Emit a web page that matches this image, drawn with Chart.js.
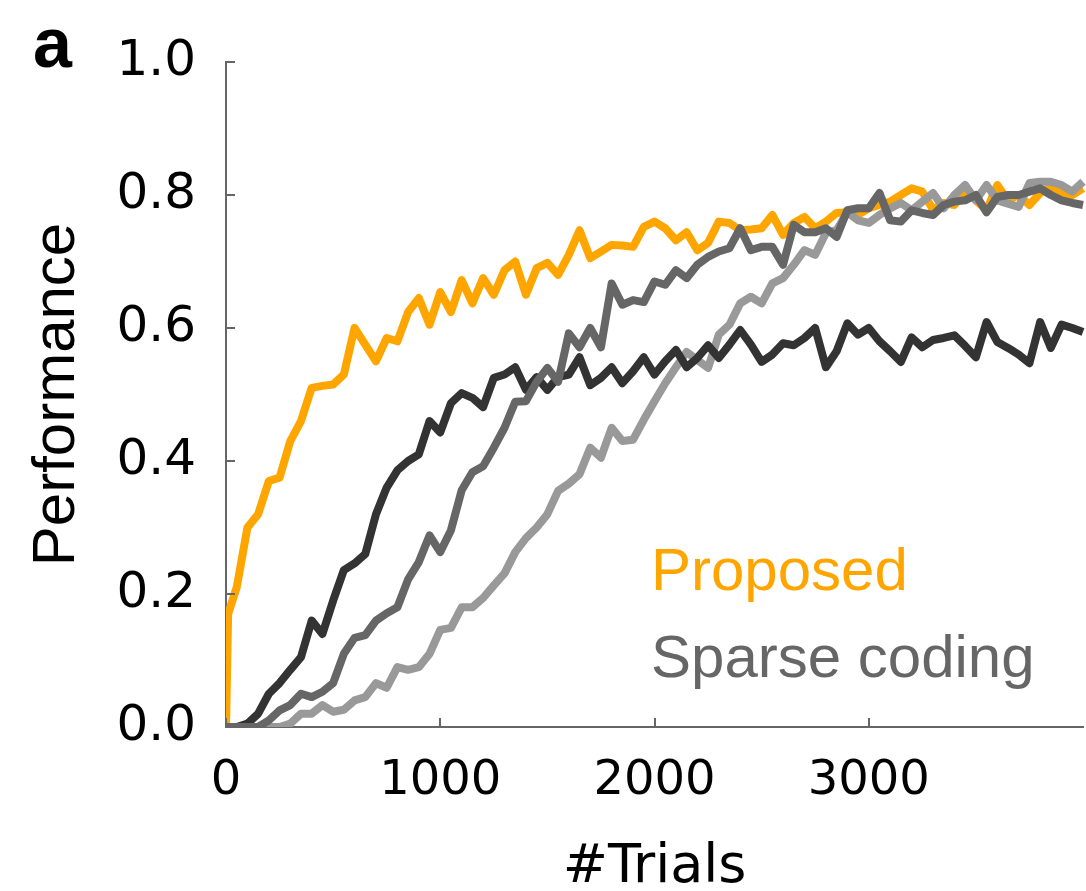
<!DOCTYPE html>
<html>
<head>
<meta charset="utf-8">
<script src="https://cdn.jsdelivr.net/npm/chart.js@4.4.1/dist/chart.umd.min.js"></script>
<style>
  html, body { margin: 0; padding: 0; background: #fff; }
  #wrap { position: relative; width: 1086px; height: 891px; }
</style>
</head>
<body>
<div id="wrap"><canvas id="myChart" width="1086" height="891"></canvas></div>
<script>
// trials (x), every 50 after the first jump
const trials = [
  0, 10, 50, 100, 150, 200, 250, 300, 350, 400,
  450, 500, 550, 600, 650, 700, 750, 800, 850, 900,
  950, 1000, 1050, 1100, 1150, 1200, 1250, 1300, 1350, 1400,
  1450, 1500, 1550, 1600, 1650, 1700, 1750, 1800, 1850, 1900,
  1950, 2000, 2050, 2100, 2150, 2200, 2250, 2300, 2350, 2400,
  2450, 2500, 2550, 2600, 2650, 2700, 2750, 2800, 2850, 2900,
  2950, 3000, 3050, 3100, 3150, 3200, 3250, 3300, 3350, 3400,
  3450, 3500, 3550, 3600, 3650, 3700, 3750, 3800, 3850, 3900,
  3950, 4000
];

const proposed = [
  0.0, 0.17, 0.21, 0.30, 0.32, 0.37, 0.375, 0.43, 0.46, 0.51,
  0.513, 0.515, 0.53, 0.60, 0.575, 0.55, 0.585, 0.58, 0.624, 0.645,
  0.605, 0.654, 0.624, 0.672, 0.637, 0.675, 0.65, 0.687, 0.70, 0.65,
  0.69, 0.698, 0.68, 0.71, 0.747, 0.705, 0.715, 0.725, 0.724, 0.722,
  0.752, 0.76, 0.75, 0.732, 0.744, 0.717, 0.728, 0.76, 0.758, 0.747,
  0.748, 0.75, 0.77, 0.74, 0.758, 0.767, 0.75, 0.76, 0.773, 0.774,
  0.77, 0.78, 0.785, 0.79, 0.80, 0.81, 0.805, 0.778, 0.788, 0.785,
  0.807, 0.792, 0.777, 0.815, 0.792, 0.80, 0.785, 0.803, 0.812, 0.803,
  0.80, 0.81
];

const sparseDark = [
  0.0, 0.0, 0.0, 0.005, 0.02, 0.05, 0.066, 0.086, 0.105, 0.16,
  0.14, 0.19, 0.236, 0.246, 0.26, 0.32, 0.36, 0.386, 0.40, 0.41,
  0.46, 0.443, 0.487, 0.502, 0.495, 0.481, 0.525, 0.53, 0.541, 0.507,
  0.526, 0.507, 0.526, 0.53, 0.556, 0.514, 0.525, 0.541, 0.517, 0.535,
  0.556, 0.53, 0.55, 0.567, 0.541, 0.555, 0.574, 0.555, 0.575, 0.597,
  0.575, 0.549, 0.56, 0.577, 0.574, 0.585, 0.60, 0.541, 0.565, 0.607,
  0.59, 0.60, 0.58, 0.565, 0.549, 0.586, 0.571, 0.582, 0.585, 0.589,
  0.573, 0.556, 0.609, 0.579, 0.57, 0.56, 0.547, 0.609, 0.57, 0.605,
  0.60, 0.594
];

const sparseMid = [
  0.0, 0.0, 0.0, 0.0, 0.0, 0.01, 0.025, 0.033, 0.05, 0.045,
  0.053, 0.066, 0.11, 0.134, 0.138, 0.16, 0.171, 0.18, 0.222, 0.248,
  0.288, 0.263, 0.296, 0.356, 0.383, 0.392, 0.42, 0.45, 0.489, 0.49,
  0.519, 0.54, 0.519, 0.592, 0.571, 0.60, 0.571, 0.667, 0.635, 0.642,
  0.639, 0.67, 0.665, 0.687, 0.675, 0.695, 0.707, 0.715, 0.72, 0.75,
  0.717, 0.722, 0.722, 0.695, 0.755, 0.744, 0.744, 0.75, 0.737, 0.777,
  0.78, 0.78, 0.803, 0.762, 0.76, 0.777, 0.773, 0.77, 0.785, 0.79,
  0.792, 0.80, 0.774, 0.797, 0.80, 0.80, 0.805, 0.81, 0.80, 0.792,
  0.788, 0.785
];

const sparseLight = [
  0.0, 0.0, 0.0, 0.0, 0.0, 0.0, 0.0, 0.005, 0.02, 0.02,
  0.033, 0.023, 0.026, 0.04, 0.045, 0.066, 0.059, 0.09, 0.086, 0.09,
  0.11, 0.146, 0.149, 0.18, 0.18, 0.194, 0.213, 0.231, 0.263, 0.284,
  0.30, 0.32, 0.355, 0.366, 0.38, 0.42, 0.405, 0.45, 0.43, 0.432,
  0.462, 0.49, 0.517, 0.541, 0.564, 0.552, 0.54, 0.59, 0.605, 0.637,
  0.647, 0.637, 0.667, 0.675, 0.695, 0.717, 0.71, 0.743, 0.747, 0.774,
  0.762, 0.758, 0.77, 0.78, 0.788, 0.777, 0.79, 0.803, 0.78, 0.80,
  0.815, 0.792, 0.815, 0.792, 0.787, 0.782, 0.818, 0.82, 0.82, 0.815,
  0.805, 0.82
];

const yTicks = [0, 0.2, 0.4, 0.6, 0.8, 1.0];
const xTicks = [0, 1000, 2000, 3000];

const AXIS_COLOR = "#666";

function toPoints(values) {
  return trials.map((t, i) => ({ x: t, y: values[i] }));
}

function lineSet(label, values, color, order) {
  return {
    label: label,
    data: toPoints(values),
    borderColor: color,
    borderWidth: 8,
    pointRadius: 0,
    tension: 0,
    fill: false,
    borderJoinStyle: "round",
    order: order,
    clip: { left: 0, top: 10, right: 6, bottom: 0 }
  };
}

// small ticks pointing into the plot
const inwardTicks = {
  id: "inwardTicks",
  afterDraw(chart) {
    const ctx = chart.ctx;
    const x = chart.scales.x;
    const y = chart.scales.y;
    const area = chart.chartArea;
    ctx.save();
    ctx.strokeStyle = AXIS_COLOR;
    ctx.lineWidth = 2;
    ctx.beginPath();
    yTicks.forEach(v => {
      const py = Math.round(y.getPixelForValue(v));
      ctx.moveTo(area.left, py);
      ctx.lineTo(area.left + 9, py);
    });
    xTicks.forEach(v => {
      const px = Math.round(x.getPixelForValue(v));
      ctx.moveTo(px, area.bottom);
      ctx.lineTo(px, area.bottom - 9);
    });
    ctx.stroke();
    ctx.restore();
  }
};

// panel letter and text legend
const labels = {
  id: "labels",
  afterDraw(chart) {
    const ctx = chart.ctx;
    ctx.save();
    ctx.textBaseline = "alphabetic";
    ctx.textAlign = "left";
    ctx.fillStyle = "#000";
    ctx.font = 'bold 70px "Liberation Sans"';
    ctx.fillText("a", 33, 67);
    ctx.font = '60px "Liberation Sans"';
    ctx.fillStyle = "#FFA500";
    ctx.fillText("Proposed", 651, 590);
    ctx.fillStyle = "#666666";
    ctx.fillText("Sparse coding", 651, 677);
    ctx.restore();
  }
};

const config = {
  type: "line",
  data: {
    datasets: [
      lineSet("Proposed", proposed, "#FFA500", 4),
      lineSet("Sparse coding (light)", sparseLight, "#999999", 3),
      lineSet("Sparse coding (dark)", sparseDark, "#333333", 2),
      lineSet("Sparse coding", sparseMid, "#666666", 1)
    ]
  },
  options: {
    responsive: false,
    animation: false,
    devicePixelRatio: 1,
    layout: { padding: { top: 62, right: 3, left: 0, bottom: 0 } },
    plugins: {
      legend: { display: false },
      tooltip: { enabled: false }
    },
    scales: {
      x: {
        type: "linear",
        min: 0,
        max: 4000,
        grid: { display: false },
        border: { display: true, color: AXIS_COLOR, width: 2 },
        ticks: {
          stepSize: 1000,
          padding: 18,
          color: "#000",
          maxRotation: 0,
          autoSkip: false,
          font: { family: "DejaVu Sans", size: 48 },
          callback: v => (v === 4000 ? "" : v)
        },
        title: {
          display: true,
          text: "#Trials",
          color: "#000",
          font: { family: "DejaVu Sans", size: 54, lineHeight: 0.85 },
          padding: { top: 0, bottom: 0 }
        },
        afterFit: s => {
          s.height = 164;
          s.paddingLeft = 0;
          s.paddingRight = 0;
        }
      },
      y: {
        min: 0,
        max: 1,
        grid: { display: false },
        border: { display: true, color: AXIS_COLOR, width: 2 },
        ticks: {
          stepSize: 0.2,
          padding: 22,
          color: "#000",
          font: { family: "DejaVu Sans", size: 50 },
          callback: v => v.toFixed(1)
        },
        title: {
          display: true,
          text: "Performance",
          color: "#000",
          font: { family: "Liberation Sans", size: 60, lineHeight: 1.2 },
          padding: { top: 21, bottom: 0 }
        },
        afterFit: s => { s.width = 226; }
      }
    }
  },
  plugins: [inwardTicks, labels]
};

new Chart(document.getElementById("myChart"), config);
</script>
</body>
</html>
